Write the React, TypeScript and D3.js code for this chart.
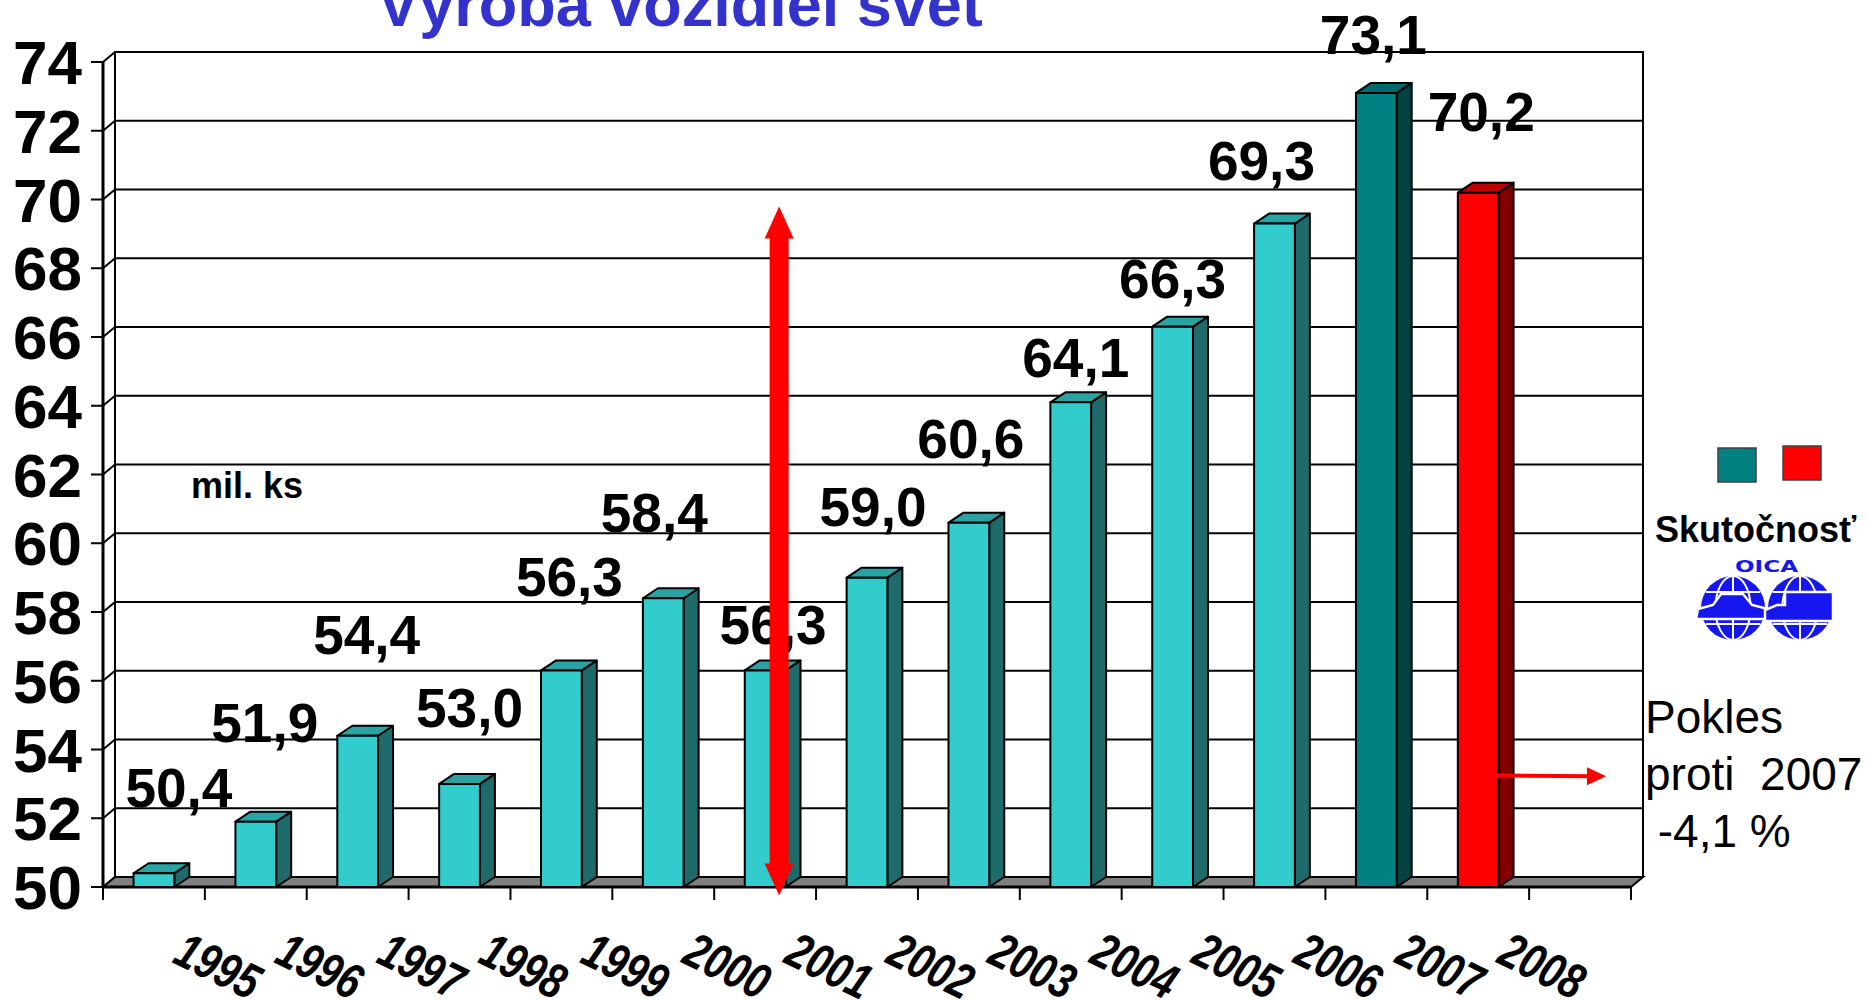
import React from "react"
import * as d3 from "d3"

// values (mil. ks)
const years = ["1995", "1996", "1997", "1998", "1999", "2000", "2001", "2002", "2003", "2004", "2005", "2006", "2007", "2008"]
const production = [50.4, 51.9, 54.4, 53.0, 56.3, 58.4, 56.3, 59.0, 60.6, 64.1, 66.3, 69.3, 73.1, 70.2]
const barKind = ["actual", "actual", "actual", "actual", "actual", "actual", "actual", "actual", "actual", "actual", "actual", "actual", "peak", "forecast"]
const yTicks = d3.range(50, 75, 2)

const title = "Výroba vozidiel svet"
const unitLabel = "mil. ks"
const legendLabel = "Skutočnosť"
const noteLines = ["Pokles", "proti  2007", " -4,1 %"]

// hand placed value labels in the original: [dx, dy] from the top of each bar
const labelNudge = [
  [25, -66], [9, -80], [9, -82], [10, -57], [8, -74], [-9, -66], [8, -26],
  [6, -52], [2, -65], [5, -25], [0, -29], [-13, -44], [-3, -39], [3, -62],
]
const bigArrowRange = [49.75, 69.8]
const smallArrowValue = 53.25

const palette = {
  actual: { front: "#33CCCC", side: "#1F6A6A", top: "#2AA3A3" },
  peak: { front: "#008080", side: "#004242", top: "#006868" },
  forecast: { front: "#FF0000", side: "#800000", top: "#C00000" },
}

const width = 1870
const height = 1000
const plotLeft = 103
const plotRight = 1631
const wall = { dx: 12, dy: -10 }
const box = { dx: 15, dy: -10 }
const font = "'Liberation Sans', Arial, sans-serif"

const fmt = (v) => d3.format(".1f")(v).replace(".", ",")

function Globe({ cx, cy, r, truck }) {
  const blue = "#1616EE"
  const car = `M${cx - 37},${cy + 11} L${cx - 35},${cy + 1} L${cx - 20},${cy - 3} L${cx - 12},${cy - 14} L${cx + 10},${cy - 14} L${cx + 19},${cy - 3} L${cx + 35},${cy + 1} L${cx + 37},${cy + 11} Z`
  const lorry = `M${cx - 35},${cy + 13} L${cx - 35},${cy + 2} L${cx - 23},${cy - 3} L${cx - 15},${cy - 3} L${cx - 15},${cy - 16} L${cx + 33},${cy - 16} L${cx + 33},${cy + 13} Z`
  return (
    <g>
      <circle cx={cx} cy={cy} r={r} fill={blue} />
      <g stroke="#fff" strokeWidth={2} fill="none">
        <line x1={cx} x2={cx} y1={cy - r} y2={cy + r} />
        <ellipse cx={cx} cy={cy} rx={r * 0.55} ry={r} />
        <line x1={cx - r * 0.85} x2={cx + r * 0.85} y1={cy - r * 0.5} y2={cy - r * 0.5} />
        <line x1={cx - r * 0.85} x2={cx + r * 0.85} y1={cy + r * 0.5} y2={cy + r * 0.5} />
      </g>
      <path d={truck ? lorry : car} fill={blue} stroke="#fff" strokeWidth={2.5} />
    </g>
  )
}

export default function App() {
  const slots = years.length + 1
  const x = d3
    .scaleBand()
    .domain(years)
    .range([plotLeft, plotLeft + ((plotRight - plotLeft) * years.length) / slots])
  const y = d3.scaleLinear().domain([50, 74]).range([887, 62])
  const step = x.step()
  const barW = x.bandwidth() * 0.4
  const y0 = y(50)
  const y1 = y(74)

  const floor = [
    [plotLeft, y0],
    [plotRight, y0],
    [plotRight + wall.dx, y0 + wall.dy],
    [plotLeft + wall.dx, y0 + wall.dy],
  ]

  const arrowX = x("2001") + x.bandwidth() / 2 + 14
  const aTop = y(bigArrowRange[1])
  const aBot = y(bigArrowRange[0])
  const head = 32
  const bigArrow = [
    [arrowX, aTop],
    [arrowX + 14.5, aTop + head],
    [arrowX + 9.5, aTop + head],
    [arrowX + 9.5, aBot - head],
    [arrowX + 14.5, aBot - head],
    [arrowX, aBot],
    [arrowX - 14.5, aBot - head],
    [arrowX - 9.5, aBot - head],
    [arrowX - 9.5, aTop + head],
    [arrowX - 14.5, aTop + head],
  ]

  const sY = y(smallArrowValue)
  const sX0 = x("2008") + x.bandwidth() / 2
  const sX1 = plotRight - 25

  return (
    <svg
      width={width}
      height={height}
      style={{ position: "absolute", left: 0, top: 0, background: "#fff" }}
      fontFamily={font}
    >
      {/* back wall */}
      <rect
        x={plotLeft + wall.dx}
        y={y1 + wall.dy}
        width={plotRight - plotLeft}
        height={y0 - y1}
        fill="#fff"
        stroke="#000"
        strokeWidth={2}
      />
      {yTicks.map((v) => (
        <line
          key={"g" + v}
          x1={plotLeft + wall.dx}
          x2={plotRight + wall.dx}
          y1={y(v) + wall.dy}
          y2={y(v) + wall.dy}
          stroke="#000"
          strokeWidth={2}
        />
      ))}
      {/* left wall */}
      {yTicks.map((v) => (
        <g key={"w" + v} stroke="#000" strokeWidth={2}>
          <line x1={plotLeft} y1={y(v)} x2={plotLeft + wall.dx} y2={y(v) + wall.dy} />
          <line x1={plotLeft - 12} y1={y(v)} x2={plotLeft} y2={y(v)} />
        </g>
      ))}
      <line x1={plotLeft} x2={plotLeft} y1={y1} y2={y0} stroke="#000" strokeWidth={3} />

      {/* floor */}
      <polygon points={floor.join(" ")} fill="#808080" stroke="#000" strokeWidth={2} />
      <line x1={plotLeft} x2={plotRight} y1={y0} y2={y0} stroke="#000" strokeWidth={3} />
      {d3.range(slots + 1).map((i) => (
        <line
          key={"t" + i}
          x1={plotLeft + i * step}
          x2={plotLeft + i * step}
          y1={y0}
          y2={y0 + 13}
          stroke="#000"
          strokeWidth={2}
        />
      ))}

      {/* y labels */}
      {yTicks.map((v) => (
        <text
          key={"yl" + v}
          x={plotLeft - 21}
          y={y(v) + 22}
          textAnchor="end"
          fontSize={62}
          fontWeight="bold"
        >
          {v}
        </text>
      ))}

      {/* bars */}
      {years.map((yr, i) => {
        const c = palette[barKind[i]]
        const left = x(yr) + (x.bandwidth() - barW) / 2
        const right = left + barW
        const top = y(production[i])
        const side = [
          [right, y0],
          [right, top],
          [right + box.dx, top + box.dy],
          [right + box.dx, y0 + box.dy],
        ]
        const lid = [
          [left, top],
          [right, top],
          [right + box.dx, top + box.dy],
          [left + box.dx, top + box.dy],
        ]
        return (
          <g key={yr} stroke="#000" strokeWidth={2} strokeLinejoin="round">
            <polygon points={side.join(" ")} fill={c.side} />
            <polygon points={lid.join(" ")} fill={c.top} />
            <rect x={left} y={top} width={barW} height={y0 - top} fill={c.front} />
          </g>
        )
      })}

      {/* value labels */}
      {years.map((yr, i) => (
        <text
          key={"v" + yr}
          x={x(yr) + x.bandwidth() / 2 + labelNudge[i][0]}
          y={y(production[i]) + labelNudge[i][1]}
          textAnchor="middle"
          fontSize={55}
          fontWeight="bold"
        >
          {fmt(production[i])}
        </text>
      ))}

      {/* year labels */}
      {years.map((yr) => {
        const cx = x(yr) + x.bandwidth() / 2 + 64
        const cy = 966
        return (
          <text
            key={"x" + yr}
            x={cx}
            y={cy}
            transform={`rotate(26 ${cx} ${cy})`}
            textAnchor="middle"
            dominantBaseline="central"
            fontSize={50}
            fontWeight="bold"
            fontStyle="italic"
            textLength={88}
            lengthAdjust="spacingAndGlyphs"
          >
            {yr}
          </text>
        )
      })}

      {/* arrows */}
      <polygon points={bigArrow.join(" ")} fill="#FF0000" />
      <line x1={sX0} x2={sX1 - 16} y1={sY} y2={sY + 1} stroke="#FF0000" strokeWidth={4} />
      <polygon
        points={[
          [sX1, sY + 1],
          [sX1 - 19, sY - 8],
          [sX1 - 19, sY + 10],
        ].join(" ")}
        fill="#FF0000"
      />

      {/* texts */}
      <text x={680} y={26} textAnchor="middle" fontSize={63} fontWeight="bold" fill="#3333CC">
        {title}
      </text>
      <text x={191} y={498} fontSize={36} fontWeight="bold">
        {unitLabel}
      </text>

      {/* legend */}
      <rect x={1718} y={448} width={38} height={34} fill="#008080" stroke="#404040" strokeWidth={1.5} />
      <rect x={1783} y={446} width={38} height={34} fill="#FF0000" stroke="#404040" strokeWidth={1.5} />
      <text x={1655} y={542} fontSize={36} fontWeight="bold">
        {legendLabel}
      </text>
      <text
        x={1735}
        y={572}
        fontSize={16}
        fontWeight="bold"
        fill="#1616EE"
        textLength={63}
        lengthAdjust="spacingAndGlyphs"
        fontFamily="'DejaVu Sans', sans-serif"
      >
        OICA
      </text>
      <Globe cx={1733} cy={608} r={32} truck={false} />
      <Globe cx={1800} cy={608} r={32} truck={true} />

      {noteLines.map((t, i) => (
        <text key={"n" + i} x={1645} y={733 + i * 57} fontSize={46} style={{ whiteSpace: "pre" }}>
          {t}
        </text>
      ))}
    </svg>
  )
}
